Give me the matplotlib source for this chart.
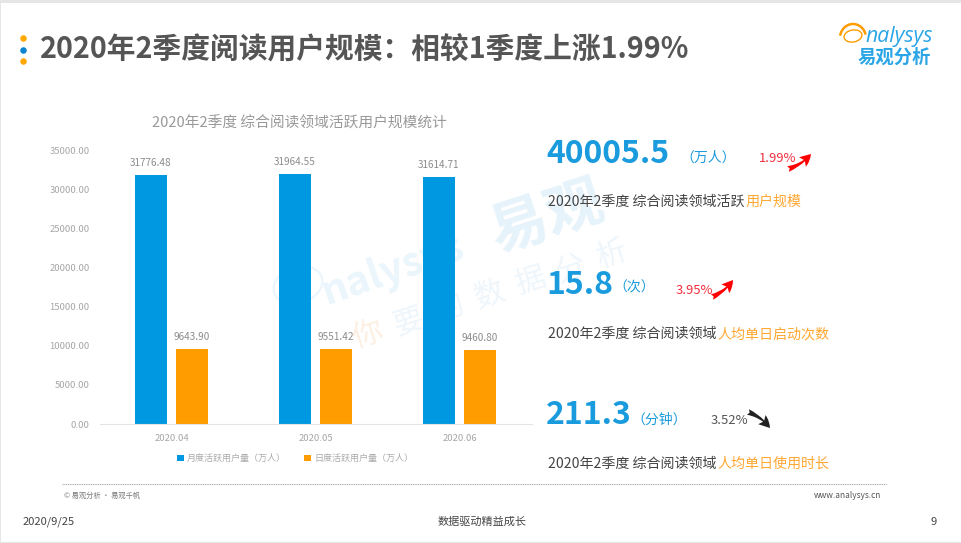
import matplotlib
matplotlib.use("Agg")
import matplotlib.pyplot as plt
from matplotlib.patches import Arc, Ellipse, Rectangle

plt.rcParams['font.family'] = ['Noto Sans CJK SC', 'DejaVu Sans']

months = ['2020.04', '2020.05', '2020.06']
mau = [31776.48, 31964.55, 31614.71]
dau = [9643.90, 9551.42, 9460.80]
yticks = [0, 5000, 10000, 15000, 20000, 25000, 30000, 35000]
mau_name = '月度活跃用户量（万人）'
dau_name = '日度活跃用户量（万人）'

BLUE = '#0098E0'
ORANGE = '#FF9C00'
W, H = 961, 543

fig = plt.figure(figsize=(W / 100, H / 100), dpi=100)

# full slide layer, coordinates in pixels
bg = fig.add_axes([0, 0, 1, 1])
bg.set_xlim(0, W)
bg.set_ylim(H, 0)
bg.axis('off')

# slide edges
bg.add_patch(Rectangle((0, 0), W, 2.5, color='#E6E6E6', lw=0))
bg.add_patch(Rectangle((0, 0), 1, H, color='#E6E6E6', lw=0))
bg.add_patch(Rectangle((0, 541.5), W, 1.5, color='#E6E6E6', lw=0))

# title
for y, c in [(38, '#FFA800'), (49.5, '#0A84D0'), (60.7, '#FFA800')]:
    bg.scatter([22.7], [y], s=22, color=c, lw=0)
bg.text(40, 48, '2020年2季度阅读用户规模：相较1季度上涨1.99%', fontsize=20.7, fontweight='bold',
        color='#555555', va='center', ha='left')

# logo
bg.add_patch(Ellipse((853, 36), 18, 12, angle=-10, fill=False, ec='#FF9C00', lw=1))
bg.add_patch(Arc((853, 38), 26, 28, theta1=190, theta2=345, color='#FF9C00', lw=1.8))
bg.text(865, 36.5, 'nalysys', fontsize=15.3, family='Open Sans', style='italic', color='#2AA5E6', va='center', ha='left')
bg.text(894, 57, '易观分析', fontsize=13.2, fontweight='bold', color='#2AA5E6', va='center', ha='center')

# watermark
bg.add_patch(Ellipse((298, 285), 50, 36, angle=-18, fill=False, ec='#EAF5FC', lw=1.5, zorder=0))
bg.text(327, 304, 'nalysys', fontsize=29, fontweight='bold', color='#EAF5FC', rotation=19, va='baseline', ha='left',
        rotation_mode='anchor', zorder=0)
bg.text(497, 252, '易观', fontsize=42, fontweight='bold', color='#E6F3FB', rotation=18, va='baseline', ha='left',
        rotation_mode='anchor', zorder=0)
for i, ch in enumerate('你要的数据分析'):
    bg.text(368 + 40.5 * i, 335 - 13.3 * i, ch, fontsize=22, fontweight='light', rotation=18, ha='center', va='center',
            color='#FDEFE2' if i == 0 else '#EEF6FC', zorder=0)

# chart
ax = fig.add_axes([99.5 / W, 1 - 424 / H, 432 / W, 274 / H])
ax.patch.set_alpha(0)
x = list(range(len(months)))
bars1 = ax.bar([i - 20.5 / 144 for i in x], mau, width=32 / 144, color=BLUE, label=mau_name)
bars2 = ax.bar([i + 20.5 / 144 for i in x], dau, width=32 / 144, color=ORANGE, label=dau_name)
ax.bar_label(bars1, labels=['%.2f' % v for v in mau], padding=5, fontsize=7.2, color='#8C8C8C')
ax.bar_label(bars2, labels=['%.2f' % v for v in dau], padding=5, fontsize=7.2, color='#8C8C8C')
ax.set_xlim(-0.5, 2.5)
ax.set_ylim(0, 35000)
ax.set_xticks(x, months)
ax.set_yticks(yticks, ['%.2f' % v for v in yticks])
ax.tick_params(axis='x', length=0, pad=7, labelsize=6.8, labelcolor='#A6A6A6')
ax.tick_params(axis='y', length=0, pad=7, labelsize=6.8, labelcolor='#A6A6A6')
for side in ['top', 'left', 'right']:
    ax.spines[side].set_visible(False)
ax.spines['bottom'].set_color('#E3E3E3')
ax.legend(loc='center', bbox_to_anchor=(295 / W, 1 - 458.5 / H), bbox_transform=fig.transFigure, ncol=2, frameon=False,
          fontsize=6.5, labelcolor='#ABABAB', handlelength=0.8, handleheight=0.6, columnspacing=2.0, handletextpad=0.35)
bg.text(299.5, 124, '2020年2季度 综合阅读领域活跃用户规模统计', fontsize=10.6, fontweight='medium', color='#999999',
        va='center', ha='center')

# right side figures
bg.text(546, 154, '40005.5', fontsize=23, fontweight='bold', color='#1A9BDD', va='center', ha='left')
bg.text(680, 158, '（万人）', fontsize=10, fontweight='medium', color='#1A9BDD', va='center', ha='left')
bg.text(759, 159, '1.99%', fontsize=9.4, fontweight='medium', color='#F0303C', va='center', ha='left')

bg.text(546, 285, '15.8', fontsize=23, fontweight='bold', color='#1A9BDD', va='center', ha='left')
bg.text(613, 288, '（次）', fontsize=10, fontweight='medium', color='#1A9BDD', va='center', ha='left')
bg.text(676, 291, '3.95%', fontsize=9.4, fontweight='medium', color='#F0303C', va='center', ha='left')

bg.text(546, 415, '211.3', fontsize=23, fontweight='bold', color='#1A9BDD', va='center', ha='left')
bg.text(631, 420, '（分钟）', fontsize=10, fontweight='medium', color='#1A9BDD', va='center', ha='left')
bg.text(711, 421, '3.52%', fontsize=9.4, color='#555555', va='center', ha='left')

# trend arrows
for p0, p1, c, rad in [((788, 169), (811, 154), '#FF0000', 0.15), ((712, 297), (733, 280), '#FF0000', 0.15),
                       ((748, 412), (770, 428), '#222222', -0.15)]:
    bg.annotate('', xy=p1, xytext=p0, arrowprops=dict(arrowstyle='fancy,head_length=0.6,head_width=0.6,tail_width=0.3',
                color=c, lw=0, mutation_scale=14, connectionstyle='arc3,rad=%.2f' % rad, shrinkA=0, shrinkB=0))

# captions, second part coloured
caption_y = [202, 334, 464]
caption_a = ['2020年2季度 综合阅读领域活跃', '2020年2季度 综合阅读领域', '2020年2季度 综合阅读领域']
caption_b = ['用户规模', '人均单日启动次数', '人均单日使用时长']
caption_x = [745, 717, 717]
for yy, a, b, xx in zip(caption_y, caption_a, caption_b, caption_x):
    bg.text(xx, yy, a, fontsize=10.1, fontweight='medium', color='#444444', va='center', ha='right')
    bg.text(xx, yy, b, fontsize=10.1, fontweight='medium', color='#FFA733', va='center', ha='left')

# footer
bg.plot([62, 887], [483.5, 483.5], color='#AFAFAF', lw=0.8, ls=(0, (1, 0.6)))
bg.text(64, 496, '© 易观分析 · 易观千帆', fontsize=5.2, color='#777777', va='center', ha='left')
bg.text(881, 496, 'www.analysys.cn', fontsize=6, color='#555555', va='center', ha='right')
bg.text(23, 522, '2020/9/25', fontsize=8, color='#444444', va='center', ha='left')
bg.text(482, 522, '数据驱动精益成长', fontsize=8, color='#444444', va='center', ha='center')
bg.text(934, 522, '9', fontsize=8, color='#444444', va='center', ha='center')

fig.savefig('out.png', dpi=100)
